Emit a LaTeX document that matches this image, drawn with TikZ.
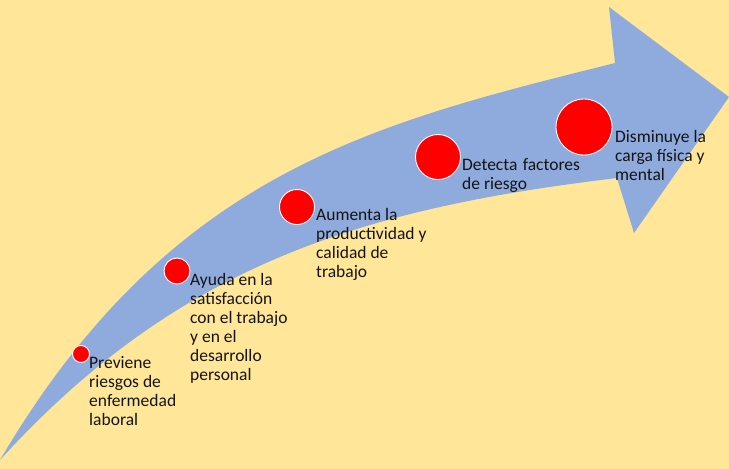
\documentclass[tikz,border=0pt]{standalone}
\usepackage{fontspec}
\setmainfont{Carlito}
\definecolor{bgyellow}{HTML}{FFE699}
\definecolor{arrowblue}{HTML}{8FAADC}
\definecolor{dotred}{HTML}{FF0000}
\definecolor{txt}{HTML}{141414}
\begin{document}
\begin{tikzpicture}[x=1pt,y=-1pt,
  dot/.style={circle,fill=dotred,draw=white,line width=0.9pt,inner sep=0pt},
  lbl/.style={anchor=base west,inner sep=0pt,align=left,text=txt,font=\fontsize{17.5}{19}\selectfont}]
\fill[bgyellow] (0,0) rectangle (729,469);
\useasboundingbox (0,0) rectangle (729,469);
% arrow
\fill[arrowblue] (0,460)
  .. controls (170,171) and (375,123) .. (615,63)
  -- (609,7) -- (729,97) -- (634,233) -- (617,178)
  .. controls (367,208) and (180,262) .. (0,460)
  -- cycle;
% dots
\node[dot,minimum size=17pt] (d1) at (81,354) {};
\node[dot,minimum size=26pt] (d2) at (177,271) {};
\node[dot,minimum size=35pt] (d3) at (297,207) {};
\node[dot,minimum size=45pt] (d4) at (438,157) {};
\node[dot,minimum size=56pt] (d5) at (584,127) {};
% labels (anchored at the baseline of their last line)
\node[lbl] (t1) at (89,425) {Previene\\riesgos de\\enfermedad\\laboral};
\node[lbl] (t2) at (190,380) {Ayuda en la\\satisfacción\\con el trabajo\\y en el\\desarrollo\\personal};
\node[lbl] (t3) at (316,277) {Aumenta la\\productividad y\\calidad de\\trabajo};
\node[lbl] (t4) at (462,189) {Detecta\hspace{1.5pt} factores\\de riesgo};
\node[lbl] (t5) at (615,180) {Disminuye la\\carga física y\\mental};
\end{tikzpicture}
\end{document}
